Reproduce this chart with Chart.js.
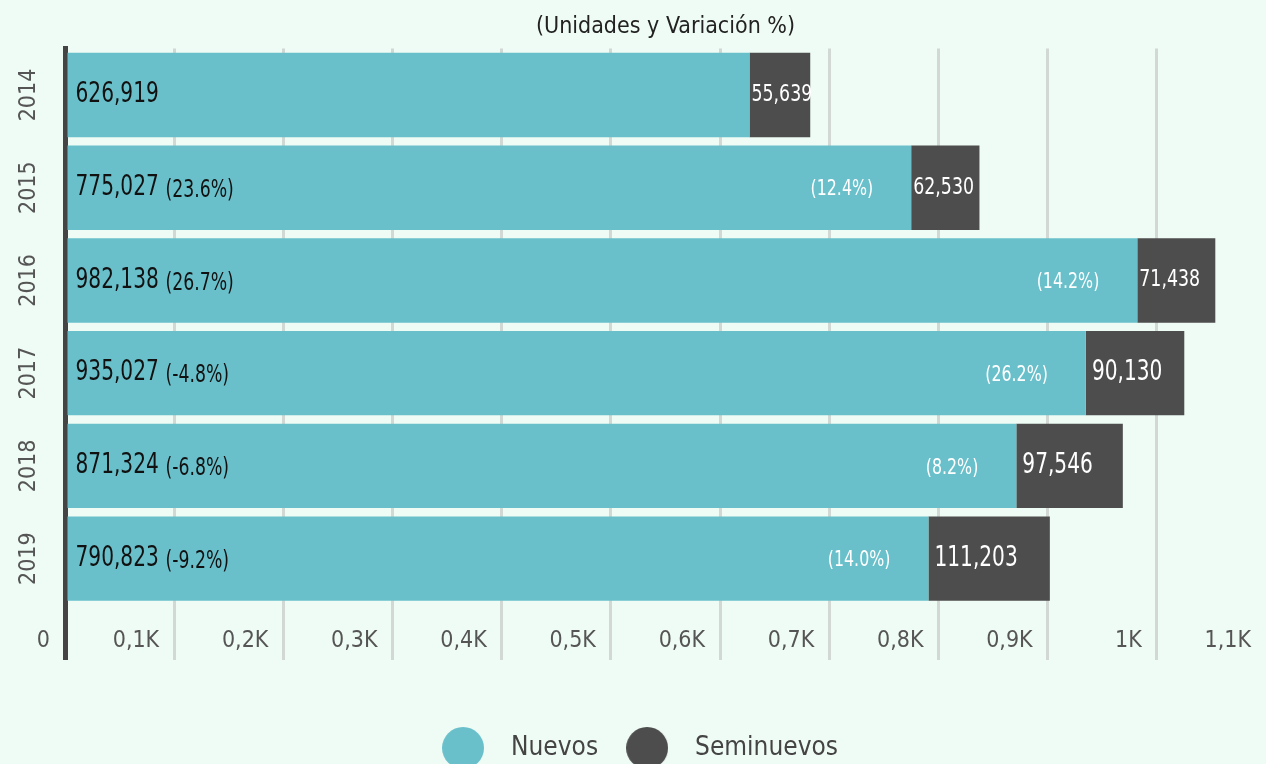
<!DOCTYPE html>
<html>
<head>
<meta charset="utf-8">
<script src="https://cdn.jsdelivr.net/npm/chart.js@4.4.1/dist/chart.umd.min.js"></script>
<style>
  html, body { margin: 0; padding: 0; background: #effcf5; overflow: hidden; }
  #caja { position: relative; width: 1266px; height: 771px; }
</style>
</head>
<body>
<div id="caja"><canvas id="grafico"></canvas></div>
<script>
var anios = ["2014", "2015", "2016", "2017", "2018", "2019"];
var nuevos = [626919, 775027, 982138, 935027, 871324, 790823];
var seminuevos = [55639, 62530, 71438, 90130, 97546, 111203];
var variacionNuevos = [null, 23.6, 26.7, -4.8, -6.8, -9.2];
var variacionSeminuevos = [null, 12.4, 14.2, 26.2, 8.2, 14.0];
var etiquetasEje = ["0", "0,1K", "0,2K", "0,3K", "0,4K", "0,5K", "0,6K", "0,7K", "0,8K", "0,9K", "1K", "1,1K"];

var fuente = "'DejaVu Sans Condensed', 'DejaVu Sans', sans-serif";
var colorNuevos = "#69c0cb";
var colorSeminuevos = "#4d4d4d";
var maximoEje = 1100000;

// texto angosto: se comprime en horizontal para parecerse a la fuente original
function textoAngosto(ctx, texto, x, y, alineacion, escala) {
  ctx.save();
  ctx.translate(x, y);
  ctx.scale(escala, 1);
  ctx.textAlign = alineacion;
  ctx.fillText(texto, 0, 0);
  ctx.restore();
}

// circulos de la leyenda (42px)
function circulo(color) {
  var c = document.createElement("canvas");
  c.width = 42;
  c.height = 42;
  var g = c.getContext("2d");
  g.fillStyle = color;
  g.beginPath();
  g.arc(21, 21, 21, 0, Math.PI * 2);
  g.fill();
  return c;
}
var circulosLeyenda = [circulo(colorNuevos), circulo(colorSeminuevos)];

var etiquetasBarras = {
  id: "etiquetasBarras",
  afterDatasetsDraw: function (chart) {
    var ctx = chart.ctx;
    var metaN = chart.getDatasetMeta(0);
    var metaS = chart.getDatasetMeta(1);
    ctx.save();
    ctx.textBaseline = "middle";
    for (var i = 0; i < anios.length; i++) {
      var barN = metaN.data[i];
      var barS = metaS.data[i];

      ctx.fillStyle = "#111";
      ctx.font = "28px " + fuente;
      textoAngosto(ctx, nuevos[i].toLocaleString("en-US"), barN.base + 8, barN.y, "left", 0.8);

      if (variacionNuevos[i] !== null) {
        ctx.font = "24px " + fuente;
        textoAngosto(ctx, "(" + variacionNuevos[i].toFixed(1) + "%)", barN.base + 98, barN.y + 3, "left", 0.8);
      }

      if (variacionSeminuevos[i] !== null) {
        ctx.fillStyle = "#ffffff";
        ctx.font = "22px " + fuente;
        textoAngosto(ctx, "(" + variacionSeminuevos[i].toFixed(1) + "%)", barN.x - 38, barN.y + 2, "right", 0.8);
      }

      var ancho = barS.x - barS.base;
      ctx.fillStyle = "#ffffff";
      if (ancho < 90) {
        ctx.font = "23px " + fuente;
        textoAngosto(ctx, seminuevos[i].toLocaleString("en-US"), barS.base + 2, barS.y, "left", 0.84);
      } else {
        ctx.font = "28px " + fuente;
        textoAngosto(ctx, seminuevos[i].toLocaleString("en-US"), barS.base + 6, barS.y, "left", 0.8);
      }
    }
    ctx.restore();
  }
};

function colorGrilla(c) {
  if (!c.tick) return "#d2d8d4";
  if (c.tick.value === 0) return "#444";
  if (c.tick.value === maximoEje) return "rgba(0,0,0,0)";
  return "#d2d8d4";
}
function anchoGrilla(c) {
  return c.tick && c.tick.value === 0 ? 5 : 3;
}

new Chart(grafico.getContext("2d"), {
  type: "bar",
  data: {
    labels: anios,
    datasets: [
      {
        label: "Nuevos",
        data: nuevos,
        backgroundColor: colorNuevos,
        barPercentage: 0.91,
        categoryPercentage: 1
      },
      {
        label: "Seminuevos",
        data: seminuevos,
        backgroundColor: colorSeminuevos,
        barPercentage: 0.91,
        categoryPercentage: 1
      }
    ]
  },
  options: {
    indexAxis: "y",
    responsive: true,
    maintainAspectRatio: false,
    animation: false,
    plugins: {
      title: {
        display: true,
        text: "(Unidades y Variación %)",
        color: "#222",
        fullSize: false,
        font: { family: fuente, size: 23, weight: "normal" },
        padding: { top: 13, bottom: 8 }
      },
      legend: {
        position: "bottom",
        labels: {
          usePointStyle: true,
          boxHeight: 26,
          pointStyleWidth: 70,
          padding: 14,
          color: "#444",
          font: { family: fuente, size: 26 },
          generateLabels: function (chart) {
            var items = Chart.defaults.plugins.legend.labels.generateLabels(chart);
            for (var i = 0; i < items.length; i++) {
              items[i].pointStyle = circulosLeyenda[i];
            }
            return items;
          }
        }
      },
      tooltip: { enabled: false }
    },
    scales: {
      x: {
        stacked: true,
        min: 0,
        max: maximoEje,
        border: { display: false },
        grid: {
          color: colorGrilla,
          lineWidth: anchoGrilla,
          tickColor: colorGrilla,
          tickWidth: anchoGrilla,
          tickLength: 55
        },
        ticks: {
          stepSize: 100000,
          autoSkip: false,
          maxRotation: 0,
          align: "end",
          labelOffset: -15,
          padding: -33,
          color: "#555",
          font: { family: fuente, size: 23 },
          callback: function (valor, indice) { return etiquetasEje[indice]; }
        },
        afterFit: function (escala) { escala.height = 116; }
      },
      y: {
        stacked: true,
        z: 1,
        border: { display: true, color: "#444", width: 5 },
        grid: { display: false },
        ticks: {
          minRotation: 90,
          maxRotation: 90,
          crossAlign: "center",
          padding: 2,
          color: "#555",
          font: { family: fuente, size: 23 }
        },
        afterFit: function (escala) { escala.width = 65; }
      }
    }
  },
  plugins: [etiquetasBarras]
});
</script>
</body>
</html>
